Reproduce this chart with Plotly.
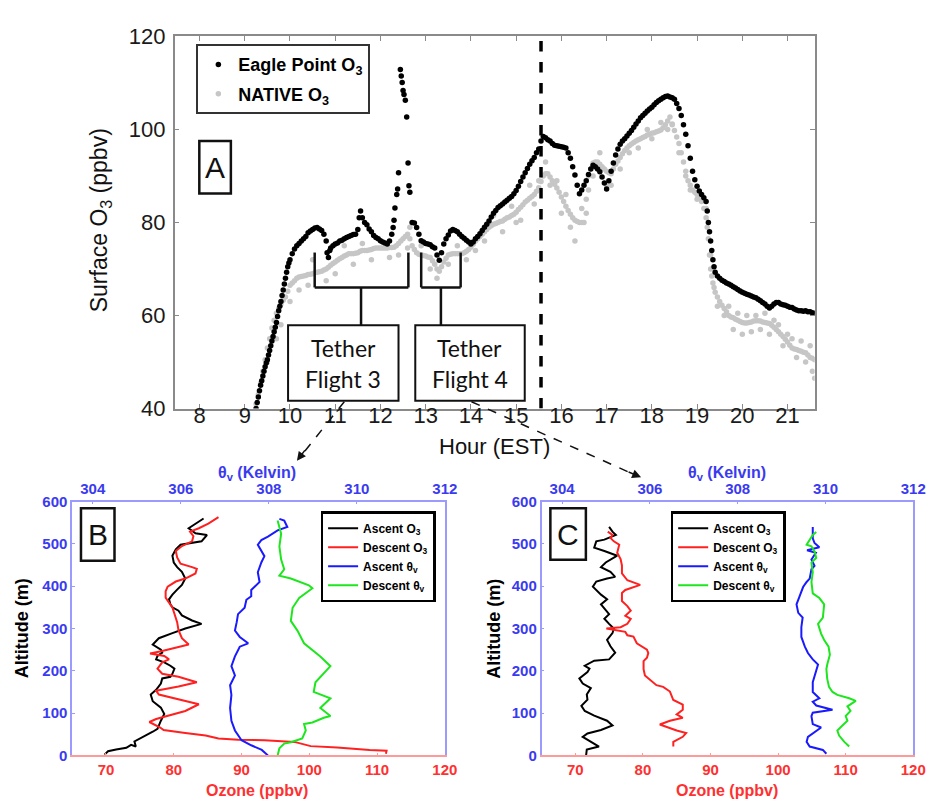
import plotly.graph_objects as go

# ---------------- Panel A data (surface ozone, ppbv) ----------------
ep_hour = [9.25,9.275,9.30,9.325,9.35,9.375,9.40,9.425,9.45,9.475,9.50,9.525,9.55,9.575,9.60,9.625,9.65,9.675,9.70,9.725,
           9.75,9.775,9.80,9.825,9.85,9.875,9.90,9.925,9.95,9.975,10.0,10.05,10.1,10.15,10.2,10.25,10.3,10.35,10.4,10.45,
           10.5,10.55,10.6,10.65,10.7,10.75,10.8,10.82,10.85,10.88,10.9,10.95,11.0,11.05,11.1,11.15,11.2,11.25,11.3,11.35,
           11.4,11.45,11.5,11.53,11.56,11.6,11.65,11.7,11.75,11.8,11.85,11.9,11.95,12.0,12.05,12.1,12.15,12.2,12.25,12.28,
           12.3,12.32,12.36,12.38,12.4,12.44,12.46,12.48,12.5,12.52,12.55,12.58,12.61,12.63,12.65,12.7,12.75,12.8,12.85,12.9,
           12.95,13.0,13.05,13.1,13.15,13.2,13.25,13.3,13.35,13.4,13.45,13.5,13.55,13.6,13.65,13.7,13.75,13.8,13.85,13.9,
           13.95,14.0,14.05,14.1,14.15,14.2,14.25,14.3,14.35,14.4,14.45,14.5,14.55,14.6,14.65,14.7,14.75,14.8,14.85,14.9,
           14.95,15.0,15.05,15.1,15.15,15.2,15.25,15.3,15.35,15.4,15.45,15.5,15.55,15.6,15.65,15.7,15.75,15.8,15.85,15.9,
           15.95,16.0,16.05,16.1,16.15,16.2,16.25,16.3,16.35,16.4,16.45,16.5,16.55,16.6,16.65,16.7,16.75,16.8,16.85,16.9,
           16.95,17.0,17.05,17.1,17.15,17.2,17.25,17.3,17.35,17.4,17.45,17.5,17.55,17.6,17.65,17.7,17.75,17.8,17.85,17.9,
           17.95,18.0,18.05,18.1,18.15,18.2,18.25,18.3,18.35,18.4,18.45,18.5,18.55,18.6,18.65,18.7,18.75,18.8,18.85,18.9,
           18.95,19.0,19.05,19.1,19.15,19.2,19.225,19.25,19.275,19.3,19.325,19.35,19.375,19.4,19.45,19.5,19.55,19.6,19.65,19.7,
           19.75,19.8,19.85,19.9,19.95,20.0,20.05,20.1,20.15,20.2,20.25,20.3,20.35,20.4,20.45,20.5,20.55,20.6,20.65,20.7,
           20.75,20.8,20.85,20.9,20.95,21.0,21.05,21.1,21.15,21.2,21.25,21.3,21.35,21.4,21.45,21.5,21.55,21.6]
ep_o3 = [40.0,41.3,42.5,43.8,45.0,46.0,47.0,48.0,49.0,49.8,50.5,51.5,52.5,53.5,54.5,55.5,56.5,57.5,58.5,59.8,
         61.0,62.0,63.0,64.3,65.5,66.8,68.0,69.3,70.5,71.3,72.0,73.3,74.3,75.0,75.5,76.0,76.5,77.0,77.8,78.2,
         78.5,78.8,78.9,78.6,78.3,77.5,76.0,73.5,72.5,74.0,74.5,75.0,75.4,75.6,76.0,76.2,76.5,76.8,77.0,77.2,
         77.4,77.5,78.5,81.0,82.5,81.0,80.0,79.5,78.6,78.0,77.2,76.8,76.5,76.1,75.8,75.6,75.4,76.0,77.5,78.9,
         80.5,83.1,86.0,87.2,90.7,112.9,111.5,110.1,108.4,107.5,106.3,102.7,92.8,87.9,86.5,80.0,79.9,78.9,77.5,76.1,
         75.8,75.5,75.4,75.2,74.8,74.5,73.0,71.9,73.5,75.4,76.5,77.3,78.2,78.5,78.3,78.0,77.5,77.0,76.6,76.2,
         75.8,75.4,75.8,76.5,77.0,77.6,78.3,79.0,79.6,80.3,81.2,82.0,82.6,83.2,83.6,84.0,84.4,84.8,85.2,85.6,
         86.2,86.9,87.8,88.8,89.8,90.7,91.6,92.5,93.3,94.0,95.0,95.8,97.5,98.5,98.2,97.8,97.5,97.0,96.6,96.5,
         96.4,96.3,96.2,96.0,95.0,93.8,92.0,90.2,88.0,86.2,87.0,88.0,89.0,90.3,91.5,92.3,92.0,91.5,90.9,89.8,
         88.5,87.2,89.0,91.0,92.8,94.5,95.8,96.8,97.5,98.0,98.6,99.2,99.8,100.5,101.2,101.8,102.5,103.0,103.5,104.0,
         104.4,104.8,105.3,105.8,106.2,106.5,106.8,107.1,107.2,107.0,106.8,106.5,105.6,104.5,103.0,101.0,99.0,96.5,93.8,91.0,
         89.2,87.8,86.8,86.0,85.3,84.5,82.5,80.0,78.0,76.0,74.0,72.0,70.5,69.3,68.5,68.0,67.6,67.3,67.0,66.8,
         66.5,66.2,65.9,65.6,65.3,65.0,64.8,64.6,64.4,64.2,64.0,63.8,63.5,63.2,62.8,62.5,62.0,61.6,62.0,62.5,
         62.8,62.8,62.5,62.3,62.2,62.0,61.8,61.7,61.4,61.2,61.0,61.0,60.9,61.0,60.8,60.8,60.6,60.5]

nat_hour = [9.25,9.3,9.35,9.4,9.45,9.5,9.55,9.6,9.65,9.7,9.75,9.8,9.85,9.9,9.95,10.0,10.05,10.1,10.15,10.2,
            10.25,10.3,10.35,10.4,10.45,10.5,10.55,10.6,10.65,10.7,10.75,10.8,10.85,10.9,10.95,11.0,11.05,11.1,11.15,11.2,
            11.25,11.3,11.35,11.4,11.45,11.5,11.55,11.6,11.65,11.7,11.75,11.8,11.85,11.9,11.95,12.0,12.05,12.1,12.15,12.2,
            12.25,12.3,12.35,12.4,12.45,12.5,12.55,12.6,12.65,12.7,12.75,12.8,12.85,12.9,12.95,13.0,13.05,13.1,13.15,13.2,
            13.25,13.3,13.35,13.4,13.45,13.5,13.55,13.6,13.65,13.7,13.75,13.8,13.85,13.9,13.95,14.0,14.05,14.1,14.15,14.2,
            14.25,14.3,14.35,14.4,14.45,14.5,14.55,14.6,14.65,14.7,14.75,14.8,14.85,14.9,14.95,15.0,15.05,15.1,15.15,15.2,
            15.25,15.3,15.35,15.4,15.45,15.5,15.55,15.6,15.65,15.7,15.75,15.8,15.85,15.9,15.95,16.0,16.05,16.1,16.15,16.2,
            16.25,16.3,16.35,16.4,16.45,16.5,16.55,16.6,16.65,16.7,16.75,16.8,16.85,16.9,16.95,17.0,17.05,17.1,17.15,17.2,
            17.25,17.3,17.35,17.4,17.45,17.5,17.55,17.6,17.65,17.7,17.75,17.8,17.85,17.9,17.95,18.0,18.05,18.1,18.15,18.2,
            18.25,18.3,18.35,18.4,18.45,18.5,18.55,18.6,18.65,18.7,18.75,18.8,18.85,18.9,18.95,19.0,19.05,19.1,19.15,19.2,
            19.225,19.25,19.275,19.3,19.325,19.35,19.375,19.4,19.45,19.5,19.55,19.6,19.65,19.7,19.75,19.8,19.85,19.9,19.95,20.0,
            20.05,20.1,20.15,20.2,20.25,20.3,20.35,20.4,20.45,20.5,20.55,20.6,20.65,20.7,20.75,20.8,20.85,20.9,20.95,21.0,
            21.05,21.1,21.15,21.2,21.25,21.3,21.35,21.4,21.45,21.5,21.55,21.6]
nat_o3 = [41,43,45.5,48,50.5,53,55,57.3,59,60.5,61.5,62.5,63.3,64,65.2,66.5,67,67.5,68,68.3,
          68.4,68.5,68.6,68.8,68.9,69,69.2,69.3,69.4,69.5,69.8,70,70.4,70.8,71.2,71.5,71.9,72.2,72.5,72.8,
          73,73.3,73.3,73.3,73.4,73.5,73.8,74,74,74,74.1,74.2,74.4,74.5,74.5,74.5,74.5,74.5,74.5,74.6,
          74.6,74.7,75,75.5,76,76.5,77,77.5,76.5,75,74.2,73.5,73.2,73,72.9,72.8,72.6,72.5,71.8,71,
          70,69.5,70.5,71.5,72.3,73,73.2,73.3,73.3,73.3,73.3,73.3,73.5,73.8,74.2,74.7,75.3,76,76.5,77,
          77.5,78,78.5,79,79.3,79.6,79.8,80,80.2,80.3,80.7,81,81.2,81.5,81.8,82.2,82.8,83.3,83.8,84.4,
          84.8,85.2,85.6,86,86.7,87.5,88.8,90,90.5,90.5,89.8,89,88.2,87.4,86.5,85.5,84.5,83.5,82.6,81.8,
          81,80.5,80.2,80,80,80,85,90,91.5,92.8,93,93,92.5,92,91.5,91,90.7,90.5,91.5,92.5,
          93.2,94,94.8,95.5,96,96.5,96.9,97.2,97.5,97.8,98,98.3,98.5,98.8,99,99.2,99.3,99.5,99.7,99.9,
          100.4,101,101.8,102.7,101.2,99.8,98.4,97,95,93,91,89,88,87,86.5,86,85.3,84.5,83,81,
          79,76.5,73,70,68.5,67,66,65,64,63,62.2,61.5,60.8,60,59.7,59.5,59.2,59,58.7,58.5,
          58.4,58.4,58.5,58.6,58.8,58.9,58.9,58.8,58.6,58.5,58.4,58.3,57.9,57.5,57,56.5,56,55.5,54.9,54.3,
          53.6,53,52.8,52.7,52.5,52.3,52.1,52,51.5,51,50.8,50.5]
# additional NATIVE readings (the spread of the grey band)
nat_hour2 = [9.5,9.7,9.8,10.0,10.2,10.4,10.5,10.8,11.0,11.2,11.4,11.6,11.8,12.0,12.2,12.4,12.6,12.65,12.9,13.1,
             13.25,13.5,13.7,13.9,14.1,14.3,14.5,14.7,14.9,15.0,15.1,15.3,15.4,15.5,15.65,15.75,15.9,16.0,16.1,16.2,
             16.3,16.45,16.55,16.6,16.7,16.85,17.0,17.1,17.3,17.5,17.7,17.9,18.0,18.2,18.35,18.45,18.6,18.75,18.85,19.0,
             19.2,19.3,19.45,19.6,19.7,19.8,19.9,20.0,20.1,20.2,20.3,20.4,20.5,20.6,20.7,20.8,20.9,21.0,21.1,21.2,
             21.3,21.4,21.5,21.55,21.6]
nat_o3_2 = [50,55,58,63,65.5,66.5,72,67.5,69,75,71,75.5,72,76,72.5,73,74.5,79,75,70,
            68,71,75,72,74,76,81.5,78,83.5,80,80.5,88,84,89,93,88,89,82,86,79,
            76,83,82,87,90,95,88,88,91.5,95,96,100,98,101.5,100,101,95,90,87,85,
            83,73,62,60,62,57,60.5,56,60,56.5,60,57,60.5,56,59,58,53.5,56,55,51,
            54.5,50,53.5,48,46.5]

# ---------------- Panels B and C data (tethersonde profiles) ----------------
b_asc_o3_alt = [2,10,14,18,25,21,33,37,48,56,63,71,82,98,113,128,144,155,170,182,186,193,205,212,220,227,235,243,250,262,
                277,289,300,311,319,331,342,350,357,369,380,392,403,418,434,445,456,472,487,498,502,506,521,525,537,544,560]
b_asc_o3 = [69.8,70.3,71.5,73.0,73.7,74.4,74.2,74.7,75.9,76.9,77.6,77.8,78.1,78.6,78.1,76.9,76.6,77.4,78.1,78.3,
            79.5,79.8,80.1,79.5,78.6,77.4,77.6,78.3,78.1,76.9,77.8,79.8,81.7,84.1,82.7,81.2,80.7,79.8,79.5,79.3,
            79.8,80.5,81.2,81.7,81.2,80.5,80.0,79.8,80.3,81.0,82.7,84.1,84.9,83.2,82.2,82.9,84.4]
b_des_o3_alt = [4,11,13,19,22,32,36,37,40,47,53,60,66,71,79,86,94,105,121,132,144,153,163,173,186,193,205,220,227,235,
                241,247,254,262,277,296,315,338,350,361,373,388,399,411,418,430,441,445,453,468,483,495,506,518,529,537,548,563]
b_des_o3 = [111.3,111.4,108.9,104.1,100.2,97.8,93.4,89.5,86.6,84.7,81.7,78.5,78.0,77.4,76.4,77.4,79.3,81.7,83.7,80.7,
            77.8,77.4,80.7,83.4,80.7,78.3,77.6,78.3,79.3,78.6,76.5,78.3,80.3,82.2,81.2,80.7,80.5,80.0,79.8,79.3,
            78.8,78.8,79.1,80.3,81.7,83.2,83.4,82.7,81.0,80.5,80.3,81.2,82.7,82.9,82.4,83.7,85.1,86.6]
b_asc_th_alt = [0,13,24,36,59,82,112,143,166,189,211,234,257,265,280,295,315,334,349,368,376,391,410,433,456,471,498,509,517,532,540,555,559]
b_asc_th = [307.98,307.84,307.60,307.38,307.23,307.15,307.12,307.15,307.12,307.23,307.15,307.23,307.34,307.53,307.34,307.23,307.27,
            307.30,307.45,307.49,307.60,307.60,307.79,307.75,307.83,307.90,307.75,307.83,307.98,308.20,308.42,308.35,308.24]
b_des_th_alt = [0,17,28,31,40,59,74,78,89,93,112,135,150,173,211,234,265,295,318,349,372,395,402,418,425,440,463,494,524,540,555]
b_des_th = [308.20,308.24,308.35,308.50,308.76,308.84,308.80,308.99,309.25,309.40,309.17,309.40,309.02,309.06,309.40,309.17,
            308.80,308.65,308.50,308.54,308.69,308.99,308.91,308.50,308.24,308.35,308.28,308.24,308.28,308.24,308.20]

c_asc_o3_alt = [0,14,21,33,44,52,60,71,82,94,105,117,132,144,159,170,182,197,205,212,224,227,243,258,273,289,300,311,323,334,
                346,357,369,380,399,411,418,422,434,445,456,472,483,491,506,510,521,529,540]
c_asc_o3 = [71.6,71.7,73.5,72.3,71.1,71.8,73.8,75.5,74.7,72.8,71.4,70.9,71.8,71.7,72.3,71.1,70.6,71.8,72.1,71.4,
            72.8,75.0,75.9,75.2,74.7,75.5,75.7,75.0,74.3,75.0,74.3,73.8,74.7,73.8,72.6,73.1,74.7,75.9,75.2,73.8,
            74.5,76.2,74.3,72.8,73.1,74.3,76.0,75.5,75.0]
c_des_o3_alt = [21,32,44,53,59,66,73,82,89,97,108,120,131,151,162,166,177,189,204,223,231,242,250,265,281,284,292,296,300,303,
                311,323,330,342,353,365,384,391,403,414,430,449,464,479,498,506,514,521,529]
c_des_o3 = [84.5,84.5,85.9,86.4,85.0,83.7,82.5,84.0,85.9,85.0,85.9,85.9,84.5,84.0,83.0,82.0,81.1,80.3,80.1,80.1,
            80.6,80.8,80.6,79.1,78.6,77.7,77.4,76.2,74.6,76.7,77.7,78.2,77.4,78.2,77.7,76.9,76.9,77.4,79.6,77.7,
            76.9,76.9,76.7,76.2,76.5,75.7,75.2,75.5,74.8]
c_asc_th_alt = [4,13,21,32,44,59,66,74,93,101,108,118,127,135,150,173,200,215,227,242,257,280,303,326,337,357,379,398,410,418,
                440,448,463,479,485,492,502,513,540]
c_asc_th = [310.02,309.94,309.64,309.57,309.60,309.79,309.90,309.71,309.68,309.71,310.16,309.79,309.71,309.86,309.71,309.71,
            309.79,309.83,309.71,309.60,309.53,309.45,309.45,309.48,309.38,309.34,309.42,309.49,309.57,309.64,309.68,309.75,
            309.68,309.78,309.58,309.86,309.75,309.71,309.71]
c_des_th_alt = [21,32,47,59,70,82,93,105,116,129,135,143,150,162,181,204,215,238,257,273,288,311,326,357,372,383,410,433,456,467,
                482,494,498,509,521,528]
c_des_th = [310.54,310.43,310.31,310.27,310.38,310.50,310.46,310.57,310.50,310.69,310.54,310.27,310.16,310.08,310.04,310.02,
            310.04,310.10,310.07,309.97,309.90,309.83,309.94,309.97,309.86,309.71,309.68,309.71,309.68,309.79,309.75,309.68,
            309.57,309.64,309.71,309.79]

hour_ticks = [8, 9, 10, 11, 12, 13, 14, 15, 16, 17, 18, 19, 20, 21]
o3_ticks = [40, 60, 80, 100, 120]
ozone_ticks = [70, 80, 90, 100, 110, 120]
theta_ticks = [304, 306, 308, 310, 312]
alt_ticks = [0, 100, 200, 300, 400, 500, 600]
flight_hour = 15.55

# ---------------- layout helpers ----------------
W, H = 938, 805
def px(x):
    return x / W
def py(y):
    return 1 - y / H

ARIAL = "Arial, Liberation Sans, sans-serif"
BLUE = "#3a3af0"
RED = "#ff3030"
BLUE_LINE = "#9a9aff"
RED_LINE = "#ff9a9a"

def bold(vals):
    return ["<b>%s</b>" % v for v in vals]

fig = go.Figure()

# Panel A traces
fig.add_trace(go.Scatter(x=nat_hour + nat_hour2, y=nat_o3 + nat_o3_2, mode="markers",
                         marker=dict(color="#c6c6c6", size=5.5), name="<b>NATIVE O<sub>3</sub></b>",
                         xaxis="x", yaxis="y", legend="legend", legendrank=2, legendgroup="n"))
fig.add_trace(go.Scatter(x=ep_hour, y=ep_o3, mode="markers",
                         marker=dict(color="#000000", size=5.5), name="<b>Eagle Point O<sub>3</sub></b>",
                         xaxis="x", yaxis="y", legend="legend", legendrank=1, legendgroup="e"))

# Panels B and C traces
def prof(x, y, color, name, xa, ya, leg):
    return go.Scatter(x=x, y=y, mode="lines", line=dict(color=color, width=2), name=name,
                      xaxis=xa, yaxis=ya, legend=leg)

names = ["<b>Ascent O<sub>3</sub></b>", "<b>Descent O<sub>3</sub></b>",
         "<b>Ascent θ<sub>v</sub></b>", "<b>Descent θ<sub>v</sub></b>"]
fig.add_trace(prof(b_asc_o3, b_asc_o3_alt, "black", names[0], "x2", "y2", "legend2"))
fig.add_trace(prof(b_des_o3, b_des_o3_alt, "#ff2020", names[1], "x2", "y2", "legend2"))
fig.add_trace(prof(b_asc_th, b_asc_th_alt, "#1a1aff", names[2], "x3", "y2", "legend2"))
fig.add_trace(prof(b_des_th, b_des_th_alt, "#1ee61e", names[3], "x3", "y2", "legend2"))
fig.add_trace(prof(c_asc_o3, c_asc_o3_alt, "black", names[0], "x4", "y3", "legend3"))
fig.add_trace(prof(c_des_o3, c_des_o3_alt, "#ff2020", names[1], "x4", "y3", "legend3"))
fig.add_trace(prof(c_asc_th, c_asc_th_alt, "#1a1aff", names[2], "x5", "y3", "legend3"))
fig.add_trace(prof(c_des_th, c_des_th_alt, "#1ee61e", names[3], "x5", "y3", "legend3"))

axA = dict(showline=True, linecolor="#8a8a8a", linewidth=1.5, mirror="ticks", ticks="inside",
           ticklen=5, tickcolor="#8a8a8a", showgrid=False, zeroline=False,
           tickfont=dict(family=ARIAL, size=22, color="#1a1a1a"))

def oz_axis(dom, anchor):
    return dict(domain=dom, anchor=anchor, range=[65, 120], tickvals=ozone_ticks, ticktext=bold(ozone_ticks),
                showline=True, linecolor=RED_LINE, linewidth=1.5, ticks="inside", ticklen=3, tickcolor=RED_LINE,
                showgrid=False, zeroline=False, tickfont=dict(family=ARIAL, size=15, color=RED))
def th_axis(over, anchor):
    return dict(overlaying=over, anchor=anchor, side="top", range=[303.53, 312], tickvals=theta_ticks,
                ticktext=bold(theta_ticks), showline=True, linecolor=BLUE_LINE, linewidth=1.5, ticks="inside",
                ticklen=3, tickcolor=BLUE_LINE, showgrid=False, zeroline=False,
                tickfont=dict(family=ARIAL, size=15, color=BLUE))
def alt_axis(dom, anchor):
    return dict(domain=dom, anchor=anchor, range=[0, 600], tickvals=alt_ticks, ticktext=bold(alt_ticks),
                showline=True, mirror=True, linecolor=BLUE_LINE, linewidth=1.5, ticks="inside", ticklen=3,
                tickcolor=BLUE_LINE, showgrid=False, zeroline=False,
                tickfont=dict(family=ARIAL, size=15, color=BLUE))

yB = [py(759), py(497)]
leg_small = dict(bordercolor="black", borderwidth=2.5, bgcolor="white", yanchor="top", xanchor="left",
                 font=dict(family=ARIAL, size=12, color="black"), tracegroupgap=0, itemwidth=30)

fig.update_layout(
    width=W, height=H, margin=dict(l=0, r=0, t=0, b=0),
    paper_bgcolor="white", plot_bgcolor="white",
    xaxis=dict(domain=[px(169), px(818)], anchor="y", range=[7.45, 21.6], tickvals=hour_ticks,
               ticklabelstandoff=-14, **axA),
    yaxis=dict(domain=[py(401), py(17)], anchor="x", range=[40, 120], tickvals=o3_ticks,
               ticklabelstandoff=3, **axA),
    xaxis2=oz_axis([px(65), px(443)], "y2"),
    xaxis3=th_axis("x2", "y2"),
    yaxis2=alt_axis(yB, "x2"),
    xaxis4=oz_axis([px(541), px(918)], "y3"),
    xaxis5=th_axis("x4", "y3"),
    yaxis3=alt_axis(yB, "x4"),
    legend=dict(x=px(191), y=py(25), xanchor="left", yanchor="top", bordercolor="#333", borderwidth=2,
                bgcolor="white", font=dict(family=ARIAL, size=18, color="black"),
                traceorder="grouped", tracegroupgap=3),
    legend2=dict(x=px(317), y=py(507), **leg_small),
    legend3=dict(x=px(672), y=py(507), **leg_small),
)

shapes = []
ann = []

# vertical dashed line at flight time
shapes.append(dict(type="line", xref="x", yref="y", x0=flight_hour, x1=flight_hour, y0=40, y1=120,
                   line=dict(color="black", width=3.5, dash="dash")))

def rect_px(x0, y0, x1, y1, w=2):
    shapes.append(dict(type="rect", xref="paper", yref="paper", x0=px(x0), x1=px(x1), y0=py(y1), y1=py(y0),
                       line=dict(color="#111", width=w), fillcolor="white", layer="above"))
def line_px(x0, y0, x1, y1, w=2.5, dash="solid"):
    shapes.append(dict(type="line", xref="paper", yref="paper", x0=px(x0), x1=px(x1), y0=py(y0), y1=py(y1),
                       line=dict(color="#111", width=w, dash=dash)))
def text_px(x, y, t, size, family=ARIAL, color="#111", **kw):
    ann.append(dict(x=px(x), y=py(y), xref="paper", yref="paper", text=t, showarrow=False,
                    font=dict(family=family, size=size, color=color), xanchor="center", yanchor="middle", **kw))

# tether flight brackets
for (xa, xb, xm) in [(311, 406, 358), (419, 459, 439)]:
    line_px(xa, 240, xa, 276)
    line_px(xb, 240, xb, 276)
    line_px(xa, 276, xb, 276)
    line_px(xm, 276, xm, 315)

# tether boxes
LATO = "Lato, Open Sans, sans-serif"
rect_px(284, 315, 396, 393)
rect_px(413, 315, 524, 393)
text_px(340, 339, "Tether", 23, LATO)
text_px(340, 370, "Flight 3", 23, LATO)
text_px(468, 339, "Tether", 23, LATO)
text_px(468, 370, "Flight 4", 23, LATO)

# panel letters
rect_px(194, 125, 226, 179, 2.5)
text_px(210, 152, "A", 30)
rect_px(74, 504, 108, 558, 2.5)
text_px(91, 531, "B", 30)
rect_px(550, 504, 586, 557, 2.5)
text_px(568, 531, "C", 30)

# dashed arrows from flights to profile panels
line_px(341, 394, 297, 450, w=1.5, dash="dash")
line_px(470, 394, 637, 470, w=1.5, dash="dash")
ann.append(dict(x=px(293), y=py(455), xref="paper", yref="paper", text="", showarrow=True,
                ax=9, ay=-12, axref="pixel", ayref="pixel", arrowhead=2, arrowsize=1.2, arrowwidth=1.5,
                arrowcolor="#111"))
ann.append(dict(x=px(642), y=py(472), xref="paper", yref="paper", text="", showarrow=True,
                ax=-14, ay=-6, axref="pixel", ayref="pixel", arrowhead=2, arrowsize=1.2, arrowwidth=1.5,
                arrowcolor="#111"))

# axis titles
text_px(94, 207, "Surface O<sub>3</sub> (ppbv)", 23, textangle=-90)
text_px(493, 440, "Hour (EST)", 22)
for (cx, lx) in [(252, 15), (729, 493)]:
    text_px(cx, 468, "<b>θ<sub>v</sub> (Kelvin)</b>", 16, color=BLUE)
    text_px(cx, 795, "<b>Ozone (ppbv)</b>", 16, color=RED)
    text_px(lx, 628, "<b>Altitude (m)</b>", 18, color="black", textangle=-90)

fig.update_layout(shapes=shapes, annotations=ann)
fig.write_html("out.html")
